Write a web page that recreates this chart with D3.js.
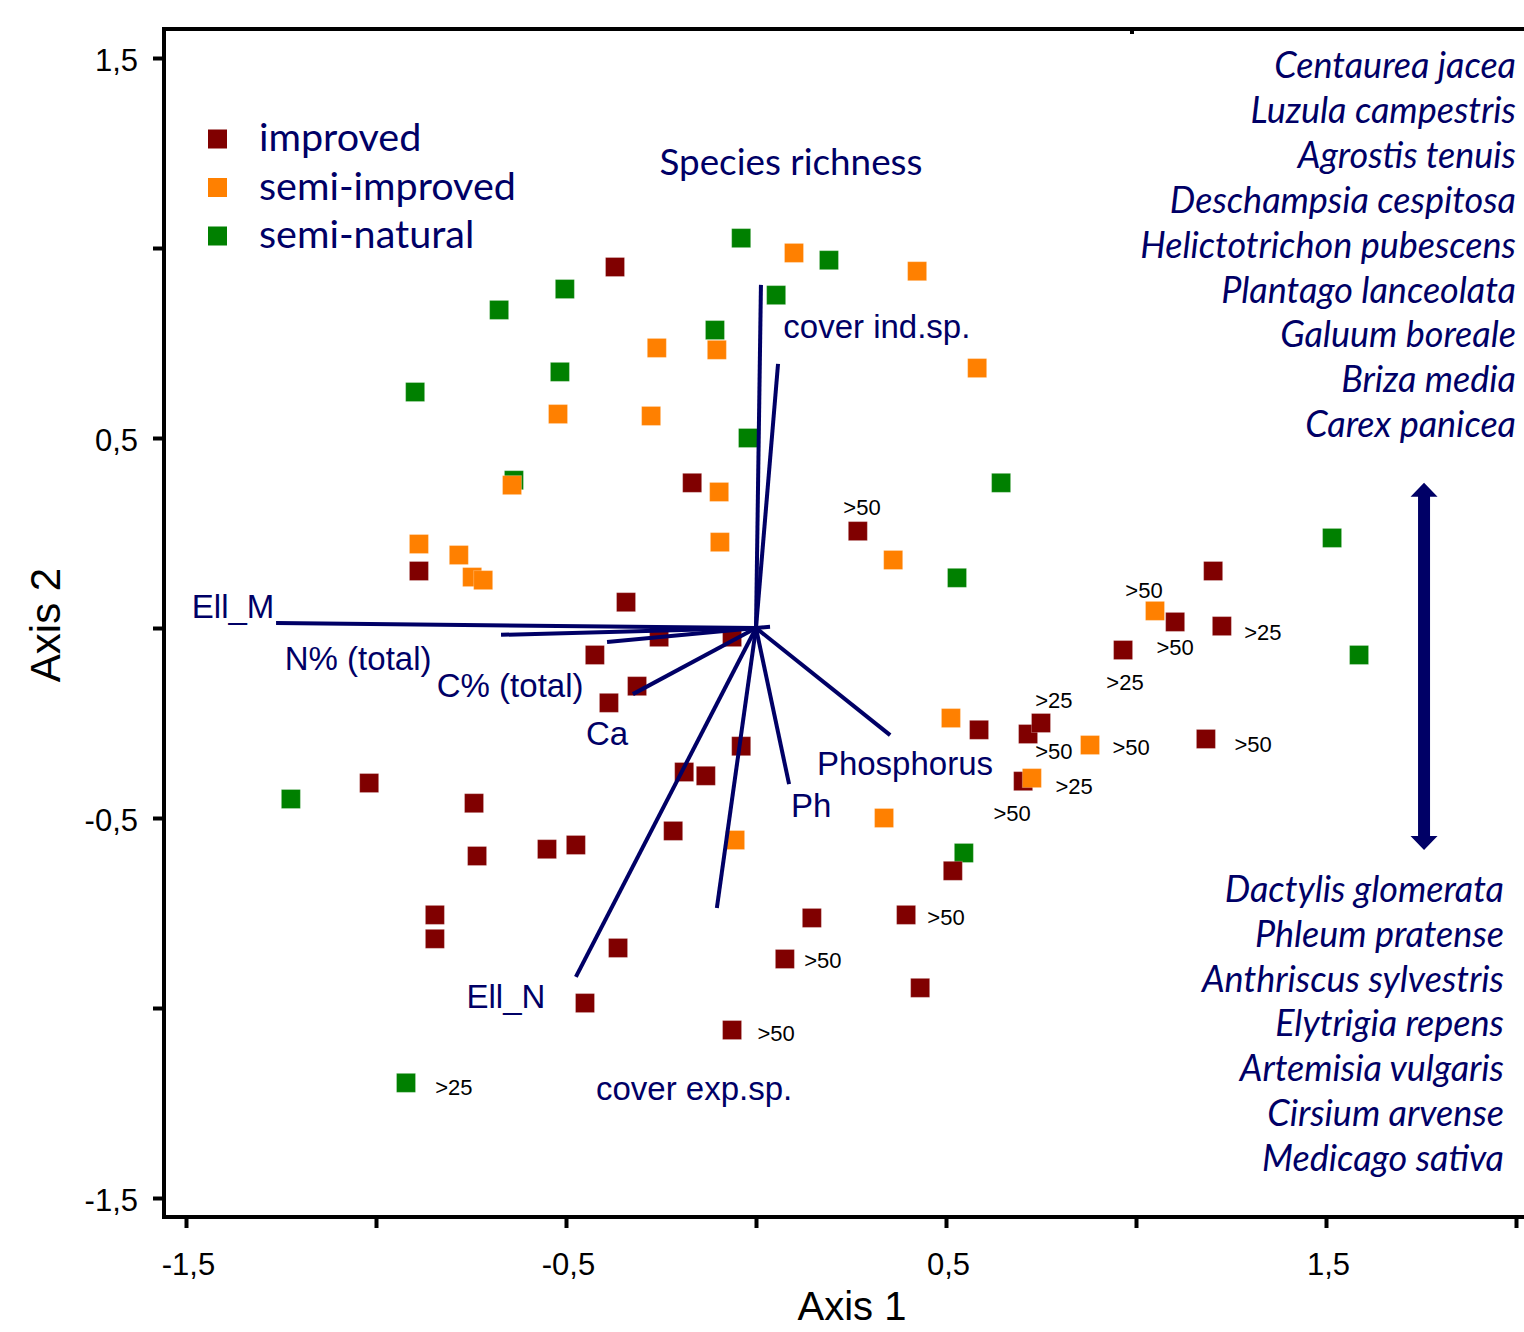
<!DOCTYPE html>
<html><head><meta charset="utf-8">
<script src="https://cdn.jsdelivr.net/npm/d3@7"></script>
<style>body{margin:0;background:#fff;} svg{display:block;}</style>
</head><body>
<svg id="chart" width="1524" height="1332"></svg>
<script>
// ---------------- DATA ----------------
const groupNames = ["improved", "semi-improved", "semi-natural"];
const groupColors = ["#800000", "#ff8000", "#008000"];

const improvedPts = [
  [-0.371,0.950],[-0.168,0.382],[-0.887,0.150],[-0.342,0.068],[-0.255,-0.024],
  [-0.424,-0.071],[-0.063,-0.024],[-0.313,-0.153],[-0.387,-0.197],[-0.039,-0.311],
  [-0.189,-0.379],[-0.132,-0.389],[-1.018,-0.408],[-0.742,-0.461],[-0.734,-0.600],
  [-0.550,-0.582],[-0.474,-0.571],[-0.218,-0.534],[-0.845,-0.755],[-0.845,-0.818],
  [-0.363,-0.842],[-0.450,-0.987],[-0.063,-1.058],[0.076,-0.871],[0.147,-0.763],
  [0.395,-0.755],[0.432,-0.947],[0.518,-0.639],[0.268,0.255],[0.587,-0.268],
  [0.716,-0.279],[0.750,-0.250],[0.703,-0.403],[0.966,-0.058],[1.103,0.016],
  [1.226,0.005],[1.203,0.150],[1.184,-0.292]
];
const semiImprovedPts = [
  [0.100,0.987],[0.424,0.939],[-0.261,0.737],[-0.103,0.732],[0.582,0.684],
  [-0.521,0.563],[-0.276,0.558],[-0.642,0.376],[-0.097,0.358],[-0.887,0.221],
  [-0.782,0.192],[-0.747,0.134],[-0.718,0.126],[-0.095,0.226],[0.361,0.179],
  [1.050,0.045],[0.513,-0.237],[0.879,-0.308],[0.726,-0.395],[0.337,-0.500],
  [-0.055,-0.558]
];
const semiNaturalPts = [
  [-0.039,1.026],[0.192,0.968],[-0.503,0.892],[0.053,0.876],[-0.676,0.837],
  [-0.108,0.784],[-0.516,0.674],[-0.897,0.621],[-0.021,0.500],[-0.637,0.389],
  [0.645,0.382],[0.529,0.132],[1.516,0.237],[1.587,-0.071],[-1.224,-0.450],
  [0.547,-0.592],[-0.921,-1.197]
];

// environmental vectors (end points, data units) and their labels
const vectorNames = ["Species richness","cover ind.sp.","Ell_M","N% (total)","C% (total)","Ca",
                     "Ell_N","cover exp.sp.","Ph","Phosphorus",""];
const vectorX = [0.013, 0.058, -1.263, -0.671, -0.392, -0.324, -0.474, -0.103, 0.087, 0.353, 0.037];
const vectorY = [0.903, 0.695, 0.013, -0.018, -0.037, -0.174, -0.918, -0.737, -0.411, -0.282, 0.003];
const vectorLabelX = [0.092, 0.318, -1.376, -1.047, -0.647, -0.392, -0.658, -0.163, 0.145, 0.392, 0];
const vectorLabelY = [1.192, 0.763, 0.026, -0.111, -0.182, -0.308, -1.000, -1.242, -0.497, -0.387, 0];

// cover annotations
const noteText = [">50",">50",">25",">50",">25",">25",">50",">50",">50",">25",">50",">50",">50",">50",">25"];
const noteX = [0.279,1.021,1.334,1.103,0.971,0.784,0.784,0.987,1.308,0.837,0.674,0.500,0.176,0.053,-0.795];
const noteY = [0.318,0.100,-0.011,-0.050,-0.142,-0.189,-0.324,-0.313,-0.305,-0.416,-0.487,-0.761,-0.874,-1.066,-1.208];

const topSpecies = ["Centaurea jacea","Luzula campestris","Agrostis tenuis","Deschampsia cespitosa",
  "Helictotrichon pubescens","Plantago lanceolata","Galuum boreale","Briza media","Carex panicea"];
const bottomSpecies = ["Dactylis glomerata","Phleum pratense","Anthriscus sylvestris","Elytrigia repens",
  "Artemisia vulgaris","Cirsium arvense","Medicago sativa"];

const xTickValues = [-1.5,-1,-0.5,0,0.5,1,1.5,2];
const xTickLabels = ["-1,5","","-0,5","","0,5","","1,5",""];
const yTickValues = [-1.5,-1,-0.5,0,0.5,1,1.5];
const yTickLabels = ["-1,5","","-0,5","","0,5","","1,5"];
const gradientArrow = {x: 1.758, y1: 0.382, y2: -0.584};

// ---------------- DRAW ----------------
const NAVY = "#000066";
const ARIAL = "Liberation Sans, Arial, sans-serif";
const CAL = "Lato, 'Open Sans', sans-serif";
const svg = d3.select("#chart");
const x = d3.scaleLinear().domain([-1.5, 2]).range([186, 1516]);
const y = d3.scaleLinear().domain([-1.5, 1.5]).range([1198, 58]);

const frame = {left: 164, top: 29, bottom: 1217, right: 1524};

function fitSize(family, style, weight, text, target) {
  const t = svg.append("text").attr("font-family", family).attr("font-style", style)
    .attr("font-weight", weight).attr("font-size", 100).text(text);
  const w = t.node().getComputedTextLength();
  t.remove();
  return 100 * target / w;
}

// axes
const xAxis = d3.axisBottom(x).tickValues(xTickValues).tickSize(11)
  .tickFormat((d, i) => xTickLabels[i]);
const gx = svg.append("g").attr("transform", `translate(0,${frame.bottom})`).call(xAxis);
gx.select(".domain").remove();
gx.selectAll(".tick line").attr("stroke", "#000").attr("stroke-width", 4);
gx.selectAll(".tick text").attr("font-family", ARIAL)
  .attr("font-size", 31).attr("fill", "#000").attr("y", 58).attr("dy", 0).attr("dx", 2);

const yAxis = d3.axisLeft(y).tickValues(yTickValues).tickSize(11)
  .tickFormat((d, i) => yTickLabels[i]);
const gy = svg.append("g").attr("transform", `translate(${frame.left},0)`).call(yAxis);
gy.select(".domain").remove();
gy.selectAll(".tick line").attr("stroke", "#000").attr("stroke-width", 4);
gy.selectAll(".tick text").attr("font-family", ARIAL)
  .attr("font-size", 31).attr("fill", "#000").attr("x", -26).attr("dy", 12);

// frame
svg.append("path")
  .attr("d", `M${frame.right},${frame.top}H${frame.left}V${frame.bottom}H${frame.right}`)
  .attr("fill", "none").attr("stroke", "#000").attr("stroke-width", 4);
svg.append("line").attr("x1", x(1) - 4).attr("x2", x(1) - 4).attr("y1", frame.top).attr("y2", frame.top + 5)
  .attr("stroke", "#000").attr("stroke-width", 4);

// axis titles
svg.append("text").attr("transform", `translate(60,625) rotate(-90)`)
  .attr("text-anchor", "middle").attr("font-family", ARIAL)
  .attr("font-size", 42).attr("fill", "#000").text("Axis 2");
svg.append("text").attr("x", 852).attr("y", 1320).attr("text-anchor", "middle")
  .attr("font-family", ARIAL)
  .attr("font-size", 40).attr("fill", "#000").text("Axis 1");

// points: green, red, orange drawing order
const S = 19;
const series = [
  {pts: semiNaturalPts, color: groupColors[2]},
  {pts: improvedPts, color: groupColors[0]},
  {pts: semiImprovedPts, color: groupColors[1]}
];
series.forEach(s => {
  svg.append("g").selectAll("rect").data(s.pts).join("rect")
    .attr("x", d => x(d[0]) - S / 2).attr("y", d => y(d[1]) - S / 2)
    .attr("width", S).attr("height", S).attr("fill", s.color)
    .attr("stroke", "#fff").attr("stroke-opacity", 0.25).attr("stroke-width", 1);
});

// vectors
const vectors = vectorNames.map((n, i) => ({name: n, x: vectorX[i], y: vectorY[i], lx: vectorLabelX[i], ly: vectorLabelY[i]}));
svg.append("g").selectAll("line").data(vectors).join("line")
  .attr("x1", x(0)).attr("y1", y(0)).attr("x2", d => x(d.x)).attr("y2", d => y(d.y))
  .attr("stroke", NAVY).attr("stroke-width", 4);
const srSize = fitSize(CAL, "normal", "normal", "Species richness", 263);
svg.append("g").selectAll("text").data(vectors.filter(d => d.name)).join("text")
  .attr("x", d => x(d.lx)).attr("y", d => y(d.ly)).attr("text-anchor", "middle")
  .attr("font-family", d => d.name === "Species richness" ? CAL : ARIAL)
  .attr("font-size", d => d.name === "Species richness" ? srSize : 33)
  .attr("fill", NAVY).text(d => d.name);

// annotations
svg.append("g").selectAll("text").data(noteText).join("text")
  .attr("x", (d, i) => x(noteX[i])).attr("y", (d, i) => y(noteY[i]) + 8)
  .attr("text-anchor", "middle").attr("font-family", ARIAL)
  .attr("font-size", 22).attr("fill", "#000").text(d => d);

// legend
const legSize = fitSize(CAL, "normal", "normal", "semi-improved", 257);
const leg = svg.append("g");
groupNames.forEach((n, i) => {
  const cy = 139 + i * 48.5;
  leg.append("rect").attr("x", 208).attr("y", cy - 9.5).attr("width", S).attr("height", S)
    .attr("fill", groupColors[i]);
  leg.append("text").attr("x", 259).attr("y", cy + 12).attr("font-family", CAL)
    .attr("font-size", legSize).attr("fill", NAVY).text(n);
});

// species lists
const spSize = fitSize(CAL, "italic", "normal", "Helictotrichon pubescens", 376);
svg.append("g").selectAll("text").data(topSpecies).join("text")
  .attr("x", 1516).attr("y", (d, i) => 78 + i * 44.9).attr("text-anchor", "end")
  .attr("font-family", CAL).attr("font-style", "italic").attr("font-size", spSize)
  .attr("fill", NAVY).text(d => d);
svg.append("g").selectAll("text").data(bottomSpecies).join("text")
  .attr("x", 1504).attr("y", (d, i) => 902 + i * 44.8).attr("text-anchor", "end")
  .attr("font-family", CAL).attr("font-style", "italic").attr("font-size", spSize)
  .attr("fill", NAVY).text(d => d);

// double arrow
const ax = x(gradientArrow.x), ay1 = y(gradientArrow.y1), ay2 = y(gradientArrow.y2);
const hw = 13.5, hl = 14, sw = 6;
svg.append("path")
  .attr("d", `M${ax},${ay1} L${ax + hw},${ay1 + hl} L${ax + sw},${ay1 + hl} L${ax + sw},${ay2 - hl} L${ax + hw},${ay2 - hl}
    L${ax},${ay2} L${ax - hw},${ay2 - hl} L${ax - sw},${ay2 - hl} L${ax - sw},${ay1 + hl} L${ax - hw},${ay1 + hl} Z`)
  .attr("fill", NAVY);
</script>
</body></html>
